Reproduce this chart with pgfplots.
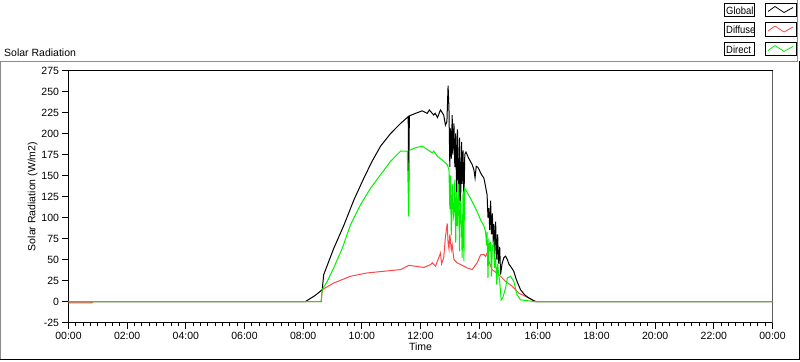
\documentclass[border=0pt]{standalone}
\usepackage{fontspec}
\setmainfont{Liberation Sans}
\usepackage{pgfplots}
\pgfplotsset{compat=1.18}
\definecolor{dred}{RGB}{255,70,70}
\definecolor{dgreen}{RGB}{0,240,0}
\definecolor{fgray}{RGB}{140,140,140}
\newcommand{\lf}{\fontsize{10.5bp}{12bp}\selectfont}
\begin{document}
\begin{tikzpicture}
\begin{axis}[
  scale only axis, width=704bp, height=252bp,
  xmin=0, xmax=24, ymin=-25, ymax=275,
  xtick={0,2,...,24},
  xticklabels={00:00,02:00,04:00,06:00,08:00,10:00,12:00,14:00,16:00,18:00,20:00,22:00,00:00},
  minor x tick num=7,
  ytick={-25,0,25,50,75,100,125,150,175,200,225,250,275},
  yticklabels={-25,0,25,50,75,100,125,150,175,200,225,250,275},
  xtick pos=bottom, ytick pos=left,
  tick align=outside,
  major tick length=6bp, minor tick length=3bp,
  tick style={black, line width=1bp},
  axis line style={black, line width=1bp},
  tick label style={font=\lf},
  label style={font=\lf},
  xlabel={Time},
  ylabel={Solar Radiation (W/m2)},
  ylabel style={yshift=-3bp},
  xlabel style={yshift=3bp},
  clip=true,
]
% Diffuse
\addplot[dred, line width=1bp] coordinates {
(0,-1.5) (0.8,-1.5) (0.82,0) (8.62,0) (8.65,14) (9.04,22) (9.61,30) (10.18,34)
(10.75,36) (11.32,38) (11.60,43) (11.83,42) (12.11,40.5) (12.35,44) (12.40,46) (12.51,42)
(12.6,50) (12.68,57.5) (12.72,45) (12.79,52) (12.85,77) (12.91,93) (12.94,70)
(12.97,63) (13.0,80) (13.05,61.5) (13.08,67.5) (13.14,50) (13.25,46) (13.48,42)
(13.59,40) (13.76,38) (13.93,46) (14.05,55.6) (14.16,56) (14.22,53.6) (14.27,57.5)
(14.33,48) (14.44,38) (14.67,32) (14.9,24) (15.13,18) (15.35,10) (15.7,4) (15.92,0) (24,0)
};
% Global
\addplot[black, line width=1bp] coordinates {
(0,0) (8.08,0) (8.4,7) (8.65,14) (8.70,32) (9.04,63) (9.39,91) (9.73,121) (10.07,147)
(10.35,167) (10.64,185) (10.98,200) (11.32,212) (11.58,220) (11.60,143) (11.62,221)
(11.83,224) (12.06,227) (12.23,224) (12.3,228) (12.45,222) (12.5,224)
(12.58,219) (12.68,228) (12.72,226) (12.79,222) (12.85,210) (12.9,214) (12.94,257)
(12.97,230) (13.0,160) (13.02,206) (13.05,170) (13.08,222) (13.1,175) (13.14,212)
(13.17,160) (13.2,200) (13.23,130) (13.26,205) (13.3,115) (13.33,195) (13.36,105)
(13.4,190) (13.42,140) (13.45,180) (13.48,120) (13.51,175) (13.55,178) (13.65,170)
(13.70,167) (13.76,163) (13.82,157) (13.86,147) (13.9,161) (13.95,160) (14.0,157)
(14.05,153) (14.1,150) (14.16,147) (14.2,140) (14.27,127) (14.3,100) (14.33,111)
(14.36,85) (14.39,120) (14.42,80) (14.45,105) (14.48,70) (14.5,92) (14.53,55)
(14.56,95) (14.6,50) (14.63,80) (14.66,45) (14.7,65) (14.73,32) (14.78,45) (14.84,52)
(14.9,54) (14.96,50) (15.02,44) (15.07,42) (15.18,36) (15.25,28) (15.29,24) (15.41,14)
(15.55,8) (15.7,4) (15.92,0) (24,0)
};
% Direct
\addplot[dgreen, line width=1bp] coordinates {
(0,0) (8.61,0) (8.65,14) (8.82,24) (9.04,40) (9.33,63) (9.61,91) (9.95,115) (10.30,135)
(10.64,151) (10.98,167) (11.32,179) (11.55,179) (11.60,101) (11.62,180) (11.83,183)
(12.06,185) (12.23,181) (12.40,177) (12.45,179) (12.57,173) (12.79,167) (12.91,163) (12.97,157)
(13.0,110) (13.02,150) (13.05,79) (13.08,140) (13.12,100) (13.14,104) (13.17,145)
(13.2,70) (13.23,130) (13.26,90) (13.3,140) (13.33,60) (13.36,120) (13.4,87)
(13.42,52) (13.45,130) (13.48,48) (13.5,135) (13.59,130) (13.70,123) (13.82,115)
(13.93,107) (14.05,97) (14.16,90) (14.22,83) (14.25,67) (14.27,83) (14.3,28)
(14.33,75) (14.36,60) (14.39,71) (14.42,30) (14.45,65) (14.5,71) (14.53,40)
(14.56,52) (14.6,20) (14.63,45) (14.67,30) (14.70,24) (14.75,2) (14.8,4) (14.9,16)
(14.96,28) (15.07,30) (15.18,24) (15.29,8) (15.41,2) (15.64,1) (15.86,0) (24,0)
};
\draw[fgray, line width=1bp] (rel axis cs:1,0) -- (rel axis cs:1,1);
\coordinate (O) at (rel axis cs:0,0);
\end{axis}
\begin{scope}[shift={(O)}, x=1bp, y=1bp]
\begin{scope}[shift={(-68.5,-38.5)}]
% outer frame
\draw[fgray, line width=1bp] (0.5,1) -- (0.5,299.5) -- (797.5,299.5) -- (797.5,361);
\draw[black, line width=1bp] (0.5,1.5) -- (799.5,1.5) -- (799.5,300);
% title
\node[anchor=base west, inner sep=0pt, font=\lf] at (4,305) {Solar Radiation};
% legend
\foreach \yy/\nm/\cc in {344.5/Global/black, 325/Diffuse/dred, 305.5/Direct/dgreen}{
  \draw[black, line width=1bp] (724.5,\yy) rectangle (754.5,\yy+13);
  \node[anchor=base west, inner sep=0pt, font=\lf] at (726,\yy+2.5) {\scalebox{0.9}[1]{\nm}};
  \draw[black, line width=1bp] (765.5,\yy) rectangle (796.5,\yy+13);
  \draw[\cc, line width=0.8bp] (768,\yy+5) -- (775,\yy+10) -- (784,\yy+4) -- (793,\yy+9);
}
\pgfresetboundingbox
\useasboundingbox (0,0) rectangle (800,361);
\end{scope}
\end{scope}
\end{tikzpicture}
\end{document}
